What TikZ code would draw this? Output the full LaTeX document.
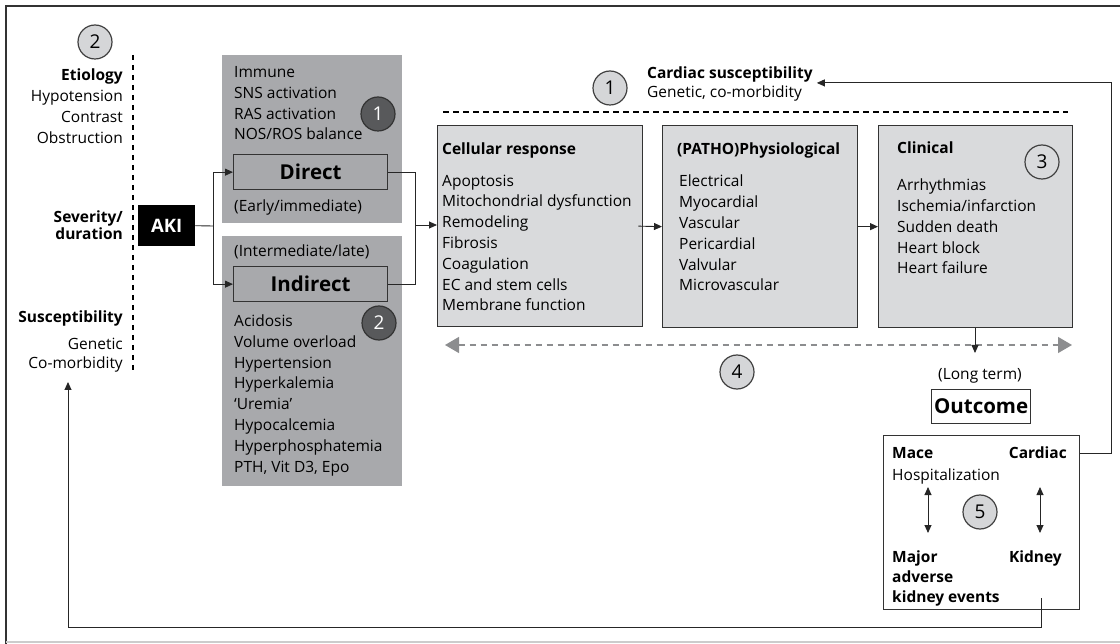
\documentclass[tikz,border=0pt]{standalone}
\usepackage{fontspec}
\setmainfont{Open Sans}
\usetikzlibrary{arrows.meta}

\definecolor{panel}{HTML}{A8A9AC}
\definecolor{boxfill}{HTML}{D9DADC}
\definecolor{ringfill}{HTML}{D5D6D8}
\definecolor{darkring}{HTML}{58595B}
\definecolor{edge}{HTML}{333333}
\definecolor{dashgray}{HTML}{8C8D8F}

% list text: the base anchor of a multi-line node is its last line
\newcommand{\txtfont}{\fontsize{15.5}{20.8}\selectfont}
\newcommand{\headfont}{\fontsize{20.5}{22}\selectfont\bfseries}
\newcommand{\numfont}{\fontsize{19}{20}\selectfont}

\tikzset{
  txt/.style={inner sep=0pt, font=\txtfont, align=left, anchor=base west},
  rtxt/.style={inner sep=0pt, font=\txtfont, align=right, anchor=base east},
  panelbox/.style={fill=panel, anchor=north west, inner sep=0pt},
  stagebox/.style={fill=boxfill, draw=edge, line width=1.3pt, anchor=north west, inner sep=0pt},
  labelbox/.style={draw=edge, line width=1.3pt, anchor=north west, inner sep=0pt, font=\headfont},
  ringlight/.style={circle, draw=black!75, fill=ringfill, line width=1.2pt, minimum size=34pt, inner sep=0pt, font=\numfont},
  ringdark/.style={circle, draw=black!80, fill=darkring, text=white, line width=1.2pt, minimum size=34pt, inner sep=0pt, font=\numfont},
  conn/.style={line width=0.9pt, draw=black!85},
  arr/.style={conn, -{Triangle[length=8pt,width=7pt]}},
  dblarr/.style={conn, {Triangle[length=8pt,width=7pt]}-{Triangle[length=8pt,width=7pt]}},
  cutline/.style={line width=1.3pt, dash pattern=on 5.5pt off 4.5pt},
}

\begin{document}
\begin{tikzpicture}[x=1pt,y=-1pt]
\useasboundingbox (0,0) rectangle (1120,644);

% frame
\draw[edge, line width=1.5pt] (6,644) -- (6,6) -- (1125,6);
\draw[black!20, line width=1.2pt] (6,642) -- (1120,642);

% ---- left column: AKI determinants
\node[ringlight] (r2a) at (95,42) {2};
\node[rtxt, font=\fontsize{15.5}{21}\selectfont] (etio) at (123,144) {\textbf{Etiology}\\Hypotension\\Contrast\\Obstruction};
\node[rtxt, font=\fontsize{15.5}{17.5}\selectfont\bfseries] (sev) at (123,240) {Severity/\\duration};
\node[rtxt, font=\txtfont\bfseries] (susc) at (123,323) {Susceptibility};
\node[rtxt, font=\fontsize{15.5}{19.5}\selectfont] (suscb) at (123,369) {Genetic\\Co-morbidity};
\coordinate (vtop) at (133,55);
\coordinate (vbot) at (133,372);
\draw[cutline, line width=1.2pt] (vtop) -- (vbot);

\node[fill=black, text=white, font=\fontsize{18.5}{20}\selectfont\bfseries, minimum width=57pt, minimum height=41pt, inner sep=0pt, anchor=north west] (aki) at (138,205) {AKI};

% ---- direct / indirect pathways
\node[panelbox, minimum width=180pt, minimum height=168pt] (panelA) at (222,55) {};
\node[panelbox, minimum width=180pt, minimum height=250pt] (panelB) at (222,236) {};

\node[txt] (dirlist) at (234,140) {Immune\\SNS activation\\RAS activation\\NOS/ROS balance};
\node[ringdark] (r1d) at (378,114) {1};
\node[labelbox, minimum width=154pt, minimum height=35pt] (direct) at (233,154) {Direct};
\node[txt] (early) at (234,212) {(Early/immediate)};

\node[txt] (late) at (234,257) {(Intermediate/late)};
\node[labelbox, minimum width=154pt, minimum height=35pt] (indirect) at (233,266) {Indirect};
\node[txt] (indlist) at (234,472) {Acidosis\\Volume overload\\Hypertension\\Hyperkalemia\\`Uremia'\\Hypocalcemia\\Hyperphosphatemia\\PTH, Vit D3, Epo};
\node[ringdark] (r2d) at (379,323) {2};

\coordinate (split) at (213,226);
\draw[conn] (aki.east) -- (split);
\draw[arr] (split) |- (direct.west);
\draw[arr] (split) |- (indirect.west);

% ---- cardiac stages
\node[ringlight] (r1l) at (610,88) {1};
\node[txt, font=\txtfont\bfseries] (cardsus) at (647,79) {Cardiac susceptibility};
\node[txt] (cardsusb) at (647,98) {Genetic, co-morbidity};
\coordinate (cutl) at (443,112);
\coordinate (cutr) at (1068,112);
\draw[cutline] (cutl) -- (cutr);

\node[stagebox, minimum width=205pt, minimum height=201pt] (cell) at (437,125) {};
\node[stagebox, minimum width=195pt, minimum height=202pt] (phys) at (662,125) {};
\node[stagebox, minimum width=194pt, minimum height=202pt] (clin) at (878,125) {};

\node[txt, font=\txtfont\bfseries] (cellh) at (442,155) {Cellular response};
\node[txt] (celllist) at (442,311) {Apoptosis\\Mitochondrial dysfunction\\Remodeling\\Fibrosis\\Coagulation\\EC and stem cells\\Membrane function};
\node[txt, font=\txtfont\bfseries] (physh) at (677,155) {(PATHO)Physiological};
\node[txt] (physlist) at (679,291) {Electrical\\Myocardial\\Vascular\\Pericardial\\Valvular\\Microvascular};
\node[txt, font=\txtfont\bfseries] (clinh) at (897,154) {Clinical};
\node[txt] (clinlist) at (897,274) {Arrhythmias\\Ischemia/infarction\\Sudden death\\Heart block\\Heart failure};
\node[ringlight, fill=boxfill] (r3) at (1042,162) {3};

\coordinate (merge) at (415,225);
\draw[conn] (direct.east) -| (merge);
\draw[conn] (indirect.east) -| (merge);
\draw[arr] (merge) -- (merge -| cell.west);
\draw[arr] ([xshift=-5pt]cell.east) -- (phys.west);
\draw[arr] (phys.east) -- (clin.west);

% time axis
\coordinate (axl) at (445,345);
\coordinate (axr) at (1072,345);
\draw[dashgray, line width=1.3pt, dash pattern=on 6pt off 5pt,
      {Triangle[length=14pt,width=16pt]}-{Triangle[length=14pt,width=16pt]}] (axl) -- (axr);
\node[ringlight] (r4) at (737,372) {4};

\coordinate (clinout) at (975,353);
\draw[arr] (clin.south -| clinout) -- (clinout);

% ---- outcome
\node[inner sep=0pt, font=\txtfont, anchor=base] (longterm) at (980,380) {(Long term)};
\node[labelbox, minimum width=99pt, minimum height=34pt] (outcome) at (931,389) {Outcome};
\node[draw=edge, line width=1.3pt, anchor=north west, minimum width=196pt, minimum height=174pt, inner sep=0pt] (mace) at (883,435) {};

\node[txt, font=\txtfont\bfseries] (macet) at (892,458) {Mace};
\node[txt] (hosp) at (892,480) {Hospitalization};
\node[rtxt, font=\txtfont\bfseries] (cardt) at (1067,458) {Cardiac};
\node[txt, font=\fontsize{15.5}{20}\selectfont\bfseries] (make) at (892,602) {Major\\adverse\\kidney events};
\node[rtxt, font=\txtfont\bfseries] (kidt) at (1062,562) {Kidney};
\node[ringlight] (r5) at (980,512) {5};

\coordinate (mlt) at (928,487);
\coordinate (mlb) at (928,533);
\coordinate (mrt) at (1040,487);
\coordinate (mrb) at (1040,533);
\draw[dblarr] (mlt) -- (mlb);
\draw[dblarr] (mrt) -- (mrb);

% feedback loops
\draw[arr] ([yshift=-18pt]mace.north east) -- ++(31,0) |- ([xshift=4pt]cardsus.south east);
\coordinate (loopstart) at (1041,598);
\coordinate (loopend) at (68,382);
\draw[arr] (loopstart) -- (1041,627) -| (loopend);

\end{tikzpicture}
\end{document}
